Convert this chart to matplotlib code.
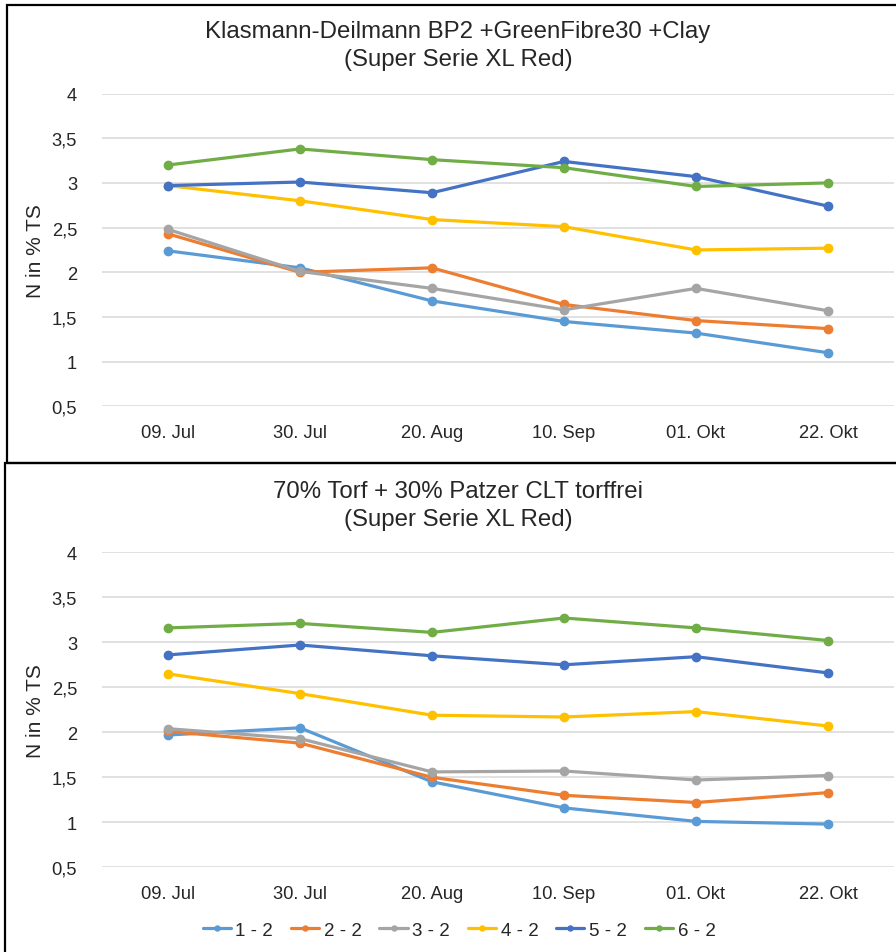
import matplotlib
matplotlib.use('Agg')
import matplotlib.pyplot as plt
from matplotlib.patches import Rectangle

plt.rcParams['font.family'] = ['Liberation Sans', 'DejaVu Sans']

# data
dates = ['09. Jul', '30. Jul', '20. Aug', '10. Sep', '01. Okt', '22. Okt']
series_names = ['1 - 2', '2 - 2', '3 - 2', '4 - 2', '5 - 2', '6 - 2']
colors = ['#5B9BD5', '#ED7D31', '#A5A5A5', '#FFC000', '#4472C4', '#70AD47']

top_s1 = [2.24, 2.05, 1.68, 1.45, 1.32, 1.10]
top_s2 = [2.43, 2.00, 2.05, 1.64, 1.46, 1.37]
top_s3 = [2.48, 2.01, 1.82, 1.58, 1.82, 1.57]
top_s4 = [2.97, 2.80, 2.59, 2.51, 2.25, 2.27]
top_s5 = [2.97, 3.01, 2.89, 3.24, 3.07, 2.74]
top_s6 = [3.20, 3.38, 3.26, 3.17, 2.96, 3.00]

bot_s1 = [1.97, 2.05, 1.45, 1.16, 1.01, 0.98]
bot_s2 = [2.01, 1.88, 1.50, 1.30, 1.22, 1.33]
bot_s3 = [2.04, 1.93, 1.56, 1.57, 1.47, 1.52]
bot_s4 = [2.65, 2.43, 2.19, 2.17, 2.23, 2.07]
bot_s5 = [2.86, 2.97, 2.85, 2.75, 2.84, 2.66]
bot_s6 = [3.16, 3.21, 3.11, 3.27, 3.16, 3.02]

top_title = 'Klasmann-Deilmann BP2 +GreenFibre30 +Clay\n(Super Serie XL Red)'
bot_title = '70% Torf + 30% Patzer CLT torffrei\n(Super Serie XL Red)'

yticks = [0.5, 1, 1.5, 2, 2.5, 3, 3.5, 4]
ytick_labels = ['0,5', '1', '1,5', '2', '2,5', '3', '3,5', '4']

W, H = 896, 953
fig = plt.figure(figsize=(W / 100, H / 100), dpi=100)


def px_axes(x0, y0, x1, y1):
    # pixel box (top-left origin) -> figure axes
    return fig.add_axes([x0 / W, 1 - y1 / H, (x1 - x0) / W, (y1 - y0) / H])


def draw_panel(ax, data, title, title_y):
    x = list(range(len(dates)))
    for vals, c, name in zip(data, colors, series_names):
        ax.plot(x, vals, color=c, lw=2.3, marker='o', markersize=6, label=name,
                solid_capstyle='round')
    ax.set_xlim(-0.5, 5.5)
    ax.set_ylim(0.5, 4)
    ax.set_yticks(yticks)
    ax.set_yticklabels(ytick_labels)
    ax.set_xticks(x)
    ax.set_xticklabels(dates)
    ax.grid(axis='y', color='#D9D9D9', lw=1.1)
    ax.set_axisbelow(True)
    for sp in ax.spines.values():
        sp.set_visible(False)
    ax.tick_params(axis='both', length=0, labelsize=13.2, colors='#262626')
    ax.tick_params(axis='y', pad=18)
    ax.tick_params(axis='x', pad=13)
    ax.set_ylabel('N in % TS', fontsize=15, color='#262626', labelpad=5)
    fig.text(458 / W, 1 - title_y / H, title, ha='center', va='center',
             fontsize=17.3, color='#262626', linespacing=1.32)


ax_top = px_axes(102, 94.5, 894, 407.4)
draw_panel(ax_top, [top_s1, top_s2, top_s3, top_s4, top_s5, top_s6], top_title, 46)

ax_bot = px_axes(102, 553.3, 894, 868.3)
draw_panel(ax_bot, [bot_s1, bot_s2, bot_s3, bot_s4, bot_s5, bot_s6], bot_title, 506)

ax_bot.legend(loc='center', bbox_to_anchor=(459 / W, 1 - 931 / H),
              bbox_transform=fig.transFigure, ncol=6, frameon=False,
              fontsize=13.5, handlelength=1.5, handletextpad=0.25,
              columnspacing=0.95, markerscale=0.6, labelcolor='#262626')

# panel borders
fig.patches.append(Rectangle((7 / W, 1 - 464 / H), (W + 20) / W, (464 - 6) / H,
                             transform=fig.transFigure, fill=False,
                             edgecolor='black', lw=1.6))
fig.patches.append(Rectangle((5 / W, -0.05), (W + 20) / W, 1 - 464 / H + 0.05,
                             transform=fig.transFigure, fill=False,
                             edgecolor='black', lw=1.6))

fig.savefig('out.png', dpi=100)
